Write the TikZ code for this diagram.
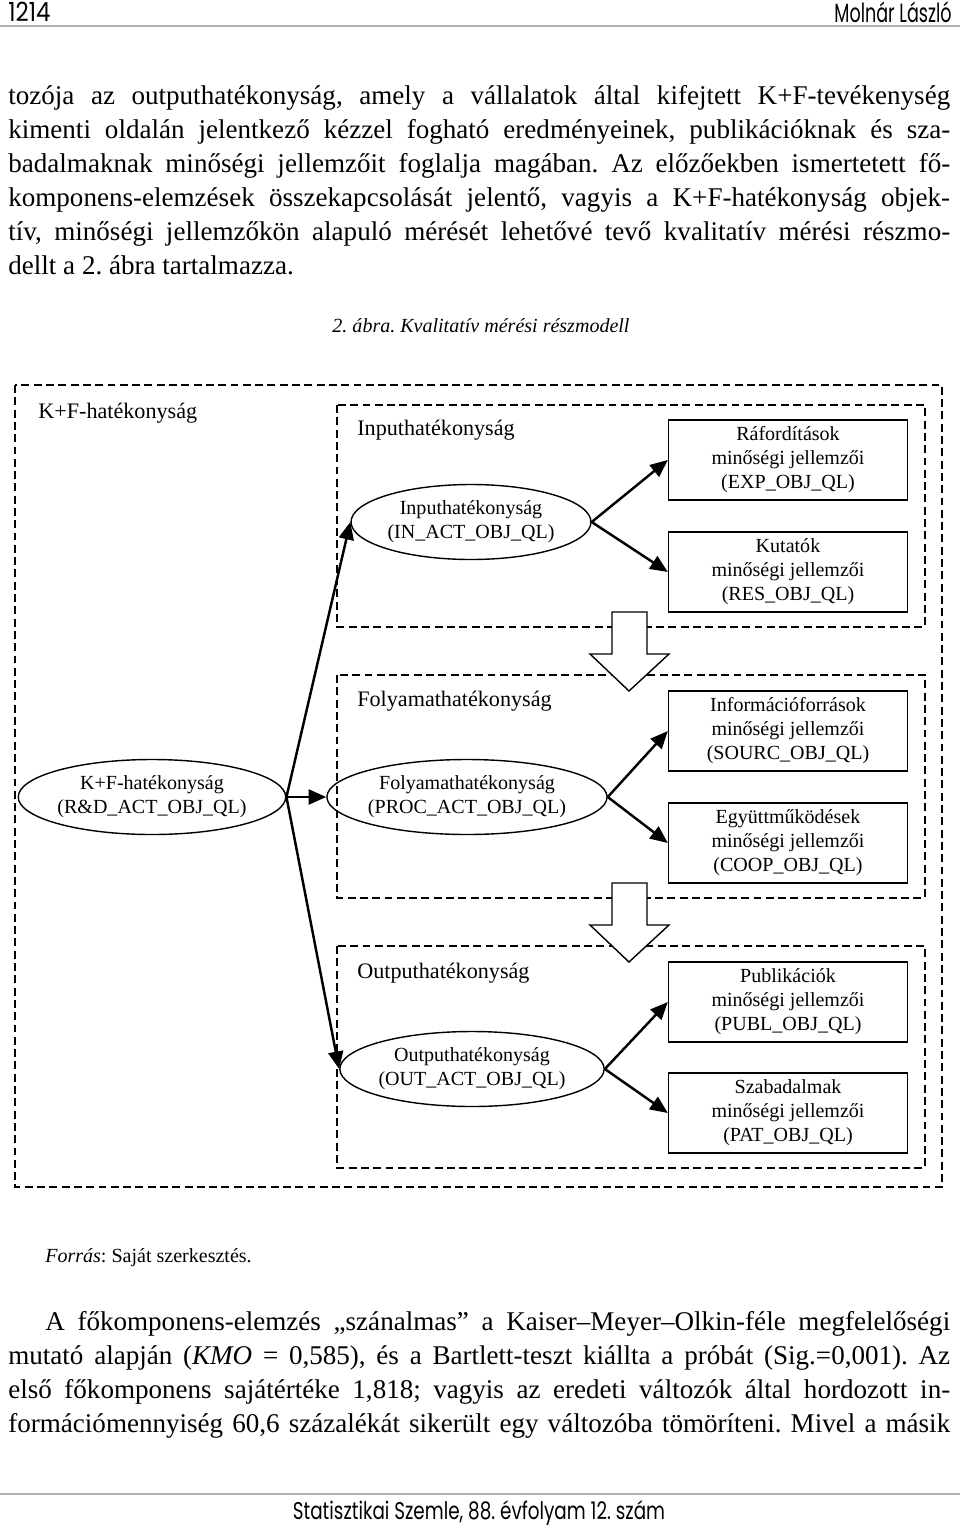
\documentclass[tikz,border=0pt]{standalone}
\usepackage{fontspec}
\setmainfont{Liberation Serif}
\newfontfamily\headfont{Poppins}
\usetikzlibrary{arrows.meta,shapes.geometric}
\frenchspacing

\newcommand{\jline}[2]{\makebox[#1][s]{#2}}

\begin{document}
\begin{tikzpicture}[x=0.02cm,y=-0.02cm,
  frame/.style={line width=1pt,dash pattern=on 4.5pt off 2.5pt},
  ellbox/.style={ellipse,draw,line width=0.8pt,minimum width=4.8cm,minimum height=1.5cm,inner sep=0pt,align=center,font=\fontsize{11.4}{13.7}\selectfont},
  charbox/.style={rectangle,draw,line width=0.8pt,minimum width=4.78cm,minimum height=1.6cm,inner sep=0pt,align=center,font=\fontsize{11.4}{13.7}\selectfont},
  grouptitle/.style={anchor=west,inner sep=0pt,font=\fontsize{12.6}{15}\selectfont},
  link/.style={line width=1.4pt,-{Triangle[length=10pt,width=8.5pt]}},
  bigarrow/.style={draw,fill=white,line width=0.8pt},
  bodyline/.style={anchor=base west,inner sep=0pt,font=\fontsize{15.4}{18}\selectfont},
  pagerule/.style={gray!60,line width=1.2pt}]

\useasboundingbox (0,0) rectangle (960,1525);

\node[anchor=west,inner sep=0pt,font=\headfont\fontsize{10}{12}\selectfont] (pg) at (8,12) {\scalebox{1.3}[1.5]{1214}};
\node[anchor=east,inner sep=0pt,font=\headfont\fontsize{10}{12}\selectfont] (auth) at (952,12) {\scalebox{1}[1.5]{Molnár László}};
\draw[pagerule] (0,26) -- (960,26);

\node[bodyline] (p1) at (8,104) {\jline{18.84cm}{tozója az outputhatékonyság, amely a vállalatok által kifejtett K+F-tevékenység}};
\node[bodyline] (p2) at (8,138) {\jline{18.84cm}{kimenti oldalán jelentkező kézzel fogható eredményeinek, publikációknak és sza-}};
\node[bodyline] (p3) at (8,172) {\jline{18.84cm}{badalmaknak minőségi jellemzőit foglalja magában. Az előzőekben ismertetett fő-}};
\node[bodyline] (p4) at (8,206) {\jline{18.84cm}{komponens-elemzések összekapcsolását jelentő, vagyis a K+F-hatékonyság objek-}};
\node[bodyline] (p5) at (8,240) {\jline{18.84cm}{tív, minőségi jellemzőkön alapuló mérését lehetővé tevő kvalitatív mérési részmo-}};
\node[bodyline] (p6) at (8,274) {dellt a 2. ábra tartalmazza.};

\node[inner sep=0pt,font=\itshape\fontsize{11.4}{14}\selectfont] (cap) at (481,326) {2. ábra. Kvalitatív mérési részmodell};

\draw[frame] (15,385) rectangle (942,1187);
\draw[frame] (337,405) rectangle (925,627);
\draw[frame] (337,675) rectangle (925,898);
\draw[frame] (337,946) rectangle (925,1168);

\node[grouptitle] (t0) at (38,413) {K+F-hatékonyság};
\node[grouptitle] (t1) at (357,430) {Inputhatékonyság};
\node[grouptitle] (t2) at (357,701) {Folyamathatékonyság};
\node[grouptitle] (t3) at (357,973) {Outputhatékonyság};

\node[ellbox] (rd) at (152,797) {K+F-hatékonyság\\(R\&D\_ACT\_OBJ\_QL)};
\node[ellbox] (inp) at (471,522) {Inputhatékonyság\\(IN\_ACT\_OBJ\_QL)};
\node[ellbox,minimum width=4.6cm] (proc) at (467,797) {Folyamathatékonyság\\(PROC\_ACT\_OBJ\_QL)};
\node[ellbox] (outp) at (472,1069) {Outputhatékonyság\\(OUT\_ACT\_OBJ\_QL)};

\node[charbox] (exp) at (788,460) {Ráfordítások\\minőségi jellemzői\\(EXP\_OBJ\_QL)};
\node[charbox] (res) at (788,572) {Kutatók\\minőségi jellemzői\\(RES\_OBJ\_QL)};
\node[charbox] (sourc) at (788,731) {Információforrások\\minőségi jellemzői\\(SOURC\_OBJ\_QL)};
\node[charbox] (coop) at (788,843) {Együttműködések\\minőségi jellemzői\\(COOP\_OBJ\_QL)};
\node[charbox] (publ) at (788,1002) {Publikációk\\minőségi jellemzői\\(PUBL\_OBJ\_QL)};
\node[charbox] (pat) at (788,1113) {Szabadalmak\\minőségi jellemzői\\(PAT\_OBJ\_QL)};

\draw[link] (rd.east) -- (inp.west);
\draw[link] (rd.east) -- (proc.west);
\draw[link] (rd.east) -- (outp.west);
\draw[link] (inp.east) -- (exp.west);
\draw[link] (inp.east) -- (res.west);
\draw[link] (proc.east) -- (sourc.west);
\draw[link] (proc.east) -- (coop.west);
\draw[link] (outp.east) -- (publ.west);
\draw[link] (outp.east) -- (pat.west);

\draw[bigarrow] (612,612) -- (647,612) -- (647,654) -- (669,654) -- (629,691) -- (590,654) -- (612,654) -- cycle;
\draw[bigarrow] (612,883) -- (647,883) -- (647,925) -- (669,925) -- (629,962) -- (590,925) -- (612,925) -- cycle;

\node[anchor=west,inner sep=0pt,font=\fontsize{11.4}{14}\selectfont] (src) at (45,1258) {\textit{Forrás}: Saját szerkesztés.};

\node[bodyline] (q1) at (45,1330) {\jline{18.1cm}{A főkomponens-elemzés „szánalmas” a Kaiser–Meyer–Olkin-féle megfelelőségi}};
\node[bodyline] (q2) at (8,1364) {\jline{18.84cm}{mutató alapján (\textit{KMO} = 0,585), és a Bartlett-teszt kiállta a próbát (Sig.=0,001). Az}};
\node[bodyline] (q3) at (8,1398) {\jline{18.84cm}{első főkomponens sajátértéke 1,818; vagyis az eredeti változók által hordozott in-}};
\node[bodyline] (q4) at (8,1432) {\jline{18.84cm}{formációmennyiség 60,6 százalékát sikerült egy változóba tömöríteni. Mivel a másik}};

\draw[pagerule] (0,1494) -- (960,1494);
\node[inner sep=0pt,font=\headfont\fontsize{9.5}{12}\selectfont] (foot) at (479,1513) {\scalebox{1.1}[1.45]{Statisztikai Szemle, 88. évfolyam 12. szám}};
\end{tikzpicture}
\end{document}
